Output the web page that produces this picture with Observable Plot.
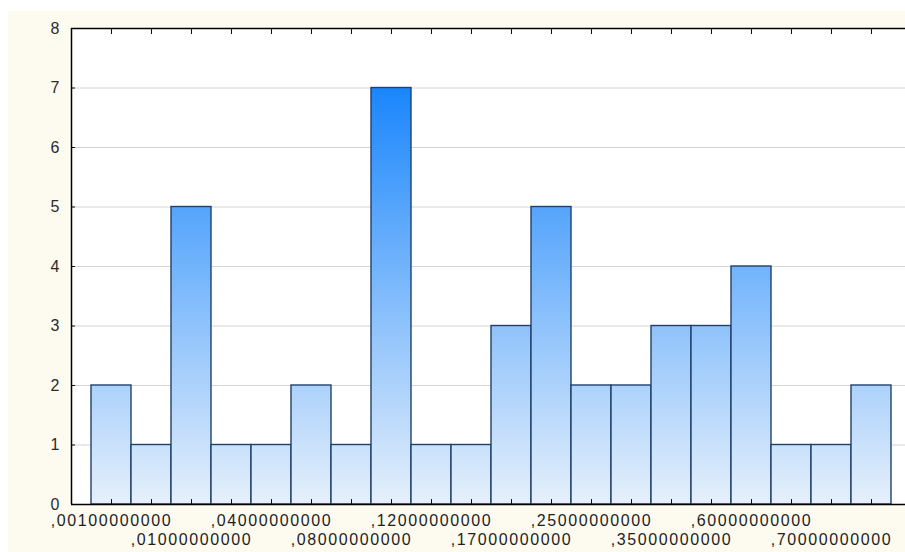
<!DOCTYPE html>
<html>
<head>
<meta charset="utf-8">
<script src="https://cdn.jsdelivr.net/npm/d3@7"></script>
<script src="https://cdn.jsdelivr.net/npm/@observablehq/plot@0.6"></script>
<style>
  html, body { margin: 0; padding: 0; background: #ffffff; }
  #chart { position: absolute; left: 8px; top: 11px; width: 897px; height: 541px; background: #fdfbef; overflow: hidden; }
  #chart svg { display: block; }
  #chart g[aria-label="text"] text { letter-spacing: 1.6px; }
</style>
</head>
<body>
<div id="chart"></div>
<script>
// Histogram bins (position of each bar along the axis) and their counts
const bins = [1, 2, 3, 4, 5, 6, 7, 8, 9, 10, 11, 12, 13, 14, 15, 16, 17, 18, 19, 20];
const counts = [2, 1, 5, 1, 1, 2, 1, 7, 1, 1, 3, 5, 2, 2, 3, 3, 4, 1, 1, 2];

// Every other bin carries a class-boundary label, staggered on two rows
const labelBins = [1, 3, 5, 7, 9, 11, 13, 15, 17, 19];
const labelTexts = [",00100000000", ",01000000000", ",04000000000", ",08000000000", ",12000000000",
                    ",17000000000", ",25000000000", ",35000000000", ",60000000000", ",70000000000"];

const yTicks = [0, 1, 2, 3, 4, 5, 6, 7, 8];
const gridLevels = [1, 2, 3, 4, 5, 6, 7];

const bars = bins.map((b, i) => ({bin: b, count: counts[i]}));
const labels = labelBins.map((b, i) => ({bin: b, text: labelTexts[i], row: i % 2}));

const font = "Arial, 'Liberation Sans', sans-serif";

const chart = Plot.plot({
  width: 897,
  height: 541,
  marginLeft: 63,
  marginRight: 0,
  marginTop: 17,
  marginBottom: 48,
  style: {background: "transparent", fontFamily: font, fontSize: "16px", color: "#262626", overflow: "visible"},
  x: {type: "linear", domain: [0, 20.85], axis: null},
  y: {domain: [0, 8], axis: null},
  marks: [
    Plot.frame({fill: "#ffffff", stroke: null}),
    Plot.gridY(gridLevels, {stroke: "#d4d4d4", strokeOpacity: 1, strokeWidth: 1}),
    Plot.rect(bars, {
      x1: d => d.bin - 0.5,
      x2: d => d.bin + 0.5,
      y1: 0,
      y2: "count",
      fill: "url(#barFill)",
      stroke: "#21406b",
      strokeWidth: 1.4
    }),
    // inward tick marks on the left, bottom and top edges
    Plot.axisY({ticks: yTicks, tickSize: -4, fill: "none", stroke: "#111", label: null}),
    Plot.axisX({ticks: bins, anchor: "bottom", tickSize: -5, fill: "none", stroke: "#111", label: null}),
    Plot.axisX({ticks: bins, anchor: "top", tickSize: -5, fill: "none", stroke: "#111", label: null}),
    // y tick labels
    Plot.axisY({ticks: yTicks, tickSize: 0, tickPadding: 12, fontSize: 16, fill: "#2a2a2a", label: null}),
    // plot border lines
    Plot.ruleX([0], {stroke: "#000", strokeWidth: 1.5}),
    Plot.ruleY([0], {stroke: "#000", strokeWidth: 1.5}),
    Plot.ruleY([8], {stroke: "#000", strokeWidth: 1.5}),
    // staggered class labels
    Plot.text(labels.filter(d => d.row === 0), {x: "bin", text: "text", frameAnchor: "bottom", dy: 21, fontSize: 16, fill: "#1e1e1e"}),
    Plot.text(labels.filter(d => d.row === 1), {x: "bin", text: "text", frameAnchor: "bottom", dy: 40, fontSize: 16, fill: "#1e1e1e"})
  ]
});

// vertical blue gradient shared by all bars, anchored to the y scale
const yScale = chart.scale("y");
const grad = d3.select(chart).insert("defs", ":first-child")
  .append("linearGradient")
  .attr("id", "barFill")
  .attr("gradientUnits", "userSpaceOnUse")
  .attr("x1", 0).attr("x2", 0)
  .attr("y1", yScale.apply(7))
  .attr("y2", yScale.apply(0));
grad.append("stop").attr("offset", "0%").attr("stop-color", "#1a86fc");
grad.append("stop").attr("offset", "100%").attr("stop-color", "#e6f0fb");

document.getElementById("chart").appendChild(chart);
</script>
</body>
</html>
